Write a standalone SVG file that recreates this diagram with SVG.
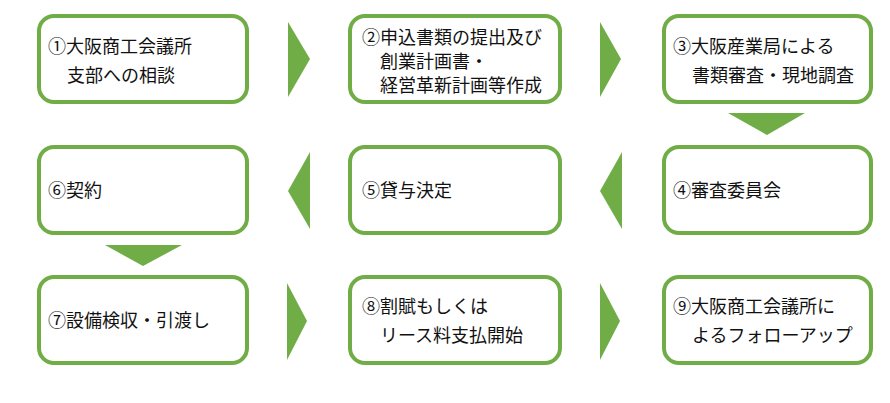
<svg xmlns="http://www.w3.org/2000/svg" width="890" height="403" viewBox="0 0 890 403">
<style>
.box{fill:#fff;stroke:#70ad47;stroke-width:4}
.arr{fill:#70ad47}
text{font-family:"Noto Sans CJK JP","Noto Sans",sans-serif;font-size:18px;fill:#111}
</style>
<rect width="890" height="403" fill="#fff"/>
<g id="connectors">
<polygon class="arr" points="288,22 310,59 288,97"/>
<polygon class="arr" points="600,22 621,59 600,97"/>
<polygon class="arr" points="728,113 805,113 767,135"/>
<polygon class="arr" points="622,152 600,191 622,229"/>
<polygon class="arr" points="310,152 288,191 310,229"/>
<polygon class="arr" points="105,245 182,245 143,266"/>
<polygon class="arr" points="287,283 307,321 287,360"/>
<polygon class="arr" points="600,283 620,321 600,360"/>
</g>
<g id="node1"><rect class="box" x="39" y="16" width="208" height="86" rx="15"/><text x="48" y="53">①大阪商工会議所</text><text x="67" y="82">支部への相談</text></g>
<g id="node2"><rect class="box" x="350" y="16" width="210" height="86" rx="15"/><text x="362" y="44">②申込書類の提出及び</text><text x="380" y="68">創業計画書・</text><text x="380" y="92">経営革新計画等作成</text></g>
<g id="node3"><rect class="box" x="664" y="16" width="207" height="86" rx="15"/><text x="673" y="53">③大阪産業局による</text><text x="692" y="82">書類審査・現地調査</text></g>
<g id="node4"><rect class="box" x="664" y="147" width="207" height="86" rx="15"/><text x="673" y="197">④審査委員会</text></g>
<g id="node5"><rect class="box" x="350" y="147" width="210" height="86" rx="15"/><text x="362" y="197">⑤貸与決定</text></g>
<g id="node6"><rect class="box" x="39" y="147" width="208" height="86" rx="15"/><text x="48" y="197">⑥契約</text></g>
<g id="node7"><rect class="box" x="39" y="277" width="208" height="86" rx="15"/><text x="48" y="327">⑦設備検収・引渡し</text></g>
<g id="node8"><rect class="box" x="350" y="277" width="210" height="86" rx="15"/><text x="362" y="313">⑧割賦もしくは</text><text x="380" y="342">リース料支払開始</text></g>
<g id="node9"><rect class="box" x="664" y="277" width="207" height="86" rx="15"/><text x="673" y="313">⑨大阪商工会議所に</text><text x="692" y="342">よるフォローアップ</text></g>
</svg>
